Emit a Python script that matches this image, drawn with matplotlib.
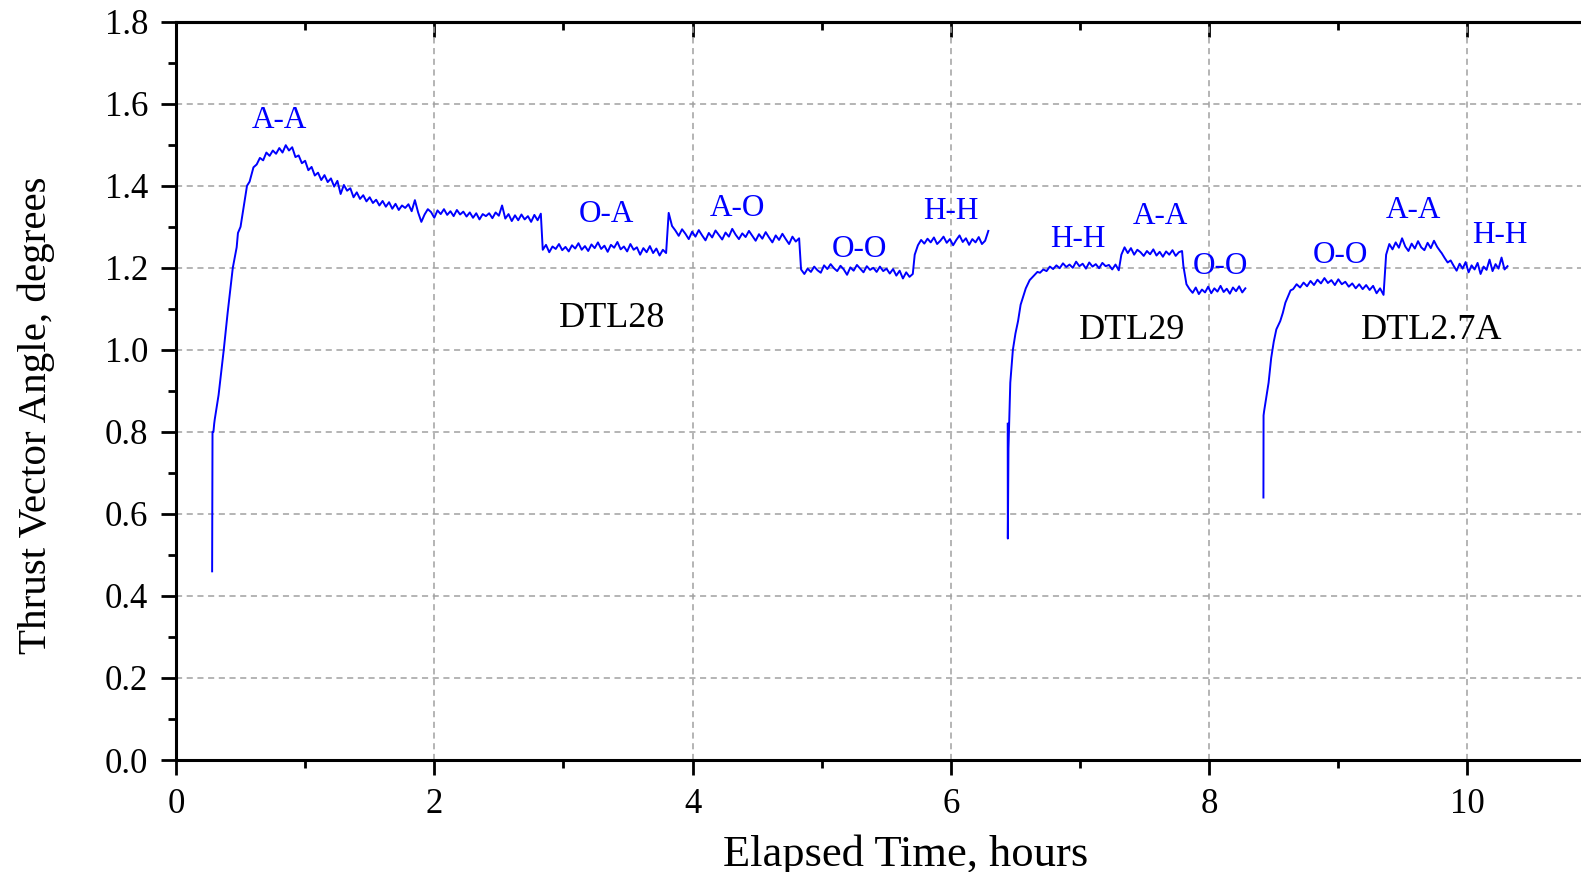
import numpy as np
import matplotlib
matplotlib.use("Agg")
import matplotlib.pyplot as plt
from matplotlib.ticker import MultipleLocator, FormatStrFormatter

plt.rcParams['font.family'] = ['Liberation Serif', 'DejaVu Serif']

# DTL28 run
dtl28_rise_t = [0.280, 0.283, 0.290, 0.296, 0.30, 0.33, 0.37, 0.40, 0.44, 0.47, 0.48,
                0.50, 0.53, 0.55, 0.57, 0.60]
dtl28_rise_y = [0.46, 0.80, 0.80, 0.82, 0.83, 0.89, 1.00, 1.09, 1.20, 1.25, 1.285,
                1.30, 1.36, 1.40, 1.41, 1.445]
dtl28_aa_span = (0.625, 2.825)
dtl28_aa = [1.452, 1.468, 1.462, 1.481, 1.473, 1.486, 1.478, 1.492, 1.481, 1.499,
            1.486, 1.494, 1.470, 1.474, 1.455, 1.461, 1.438, 1.446, 1.425, 1.432,
            1.414, 1.426, 1.409, 1.418, 1.398, 1.412, 1.380, 1.402, 1.388, 1.394,
            1.372, 1.384, 1.368, 1.377, 1.362, 1.372, 1.358, 1.366, 1.352, 1.363,
            1.349, 1.360, 1.344, 1.356, 1.341, 1.352, 1.346, 1.355, 1.338, 1.365,
            1.335, 1.312, 1.330, 1.343, 1.336, 1.322, 1.340, 1.331, 1.343, 1.329,
            1.338, 1.326, 1.341, 1.330, 1.337, 1.325, 1.335, 1.322, 1.333, 1.318,
            1.331, 1.326, 1.333, 1.321, 1.335, 1.327, 1.352, 1.320, 1.331, 1.314,
            1.328, 1.316, 1.330, 1.318, 1.326, 1.312, 1.329, 1.316, 1.332]
dtl28_oa_span = (2.840, 3.795)
dtl28_oa = [1.244, 1.256, 1.238, 1.252, 1.246, 1.258, 1.243, 1.251, 1.240, 1.255,
            1.247, 1.260, 1.244, 1.253, 1.241, 1.257, 1.248, 1.262, 1.246, 1.254,
            1.239, 1.256, 1.249, 1.263, 1.245, 1.252, 1.240, 1.258, 1.244, 1.250,
            1.232, 1.248, 1.238, 1.253, 1.236, 1.247, 1.230, 1.244, 1.236]
dtl28_ao_span = (3.815, 4.825)
dtl28_ao = [1.334, 1.302, 1.291, 1.278, 1.294, 1.283, 1.270, 1.288, 1.276, 1.292,
            1.279, 1.267, 1.285, 1.274, 1.291, 1.280, 1.269, 1.286, 1.276, 1.295,
            1.281, 1.270, 1.284, 1.275, 1.290, 1.278, 1.266, 1.282, 1.271, 1.287,
            1.274, 1.262, 1.279, 1.268, 1.283, 1.270, 1.258, 1.276, 1.264, 1.272]
dtl28_oo_span = (4.840, 5.705)
dtl28_oo = [1.196, 1.185, 1.198, 1.190, 1.203, 1.194, 1.188, 1.206, 1.197, 1.209,
            1.199, 1.192, 1.205, 1.196, 1.183, 1.201, 1.193, 1.207, 1.198, 1.189,
            1.204, 1.195, 1.200, 1.190, 1.203, 1.192, 1.198, 1.186, 1.197, 1.181,
            1.193, 1.174, 1.189, 1.178, 1.185]
dtl28_hh_span = (5.720, 6.290)
dtl28_hh = [1.232, 1.255, 1.268, 1.259, 1.271, 1.262, 1.274, 1.258, 1.266, 1.276,
            1.261, 1.270, 1.255, 1.268, 1.279, 1.263, 1.272, 1.256, 1.270, 1.262,
            1.275, 1.258, 1.266, 1.290]

# DTL29 run
dtl29_rise_t = [6.440, 6.441, 6.446, 6.46, 6.48, 6.50, 6.52, 6.54, 6.56, 6.58, 6.61,
                6.64, 6.67]
dtl29_rise_y = [0.82, 0.54, 0.76, 0.92, 1.00, 1.04, 1.07, 1.11, 1.13, 1.15, 1.17,
                1.18, 1.19]
dtl29_hh_span = (6.690, 7.300)
dtl29_hh = [1.188, 1.196, 1.192, 1.203, 1.197, 1.206, 1.199, 1.211, 1.202, 1.208,
            1.200, 1.215, 1.204, 1.210, 1.198, 1.213, 1.203, 1.209, 1.199, 1.212,
            1.204, 1.207, 1.196, 1.208, 1.194]
dtl29_aa_span = (7.320, 7.790)
dtl29_aa = [1.232, 1.250, 1.236, 1.248, 1.232, 1.244, 1.238, 1.229, 1.241, 1.233,
            1.245, 1.230, 1.239, 1.227, 1.240, 1.232, 1.243, 1.229, 1.238, 1.241]
dtl29_oo_span = (7.800, 8.280)
dtl29_oo = [1.205, 1.160, 1.148, 1.139, 1.152, 1.136, 1.147, 1.140, 1.154, 1.138,
            1.150, 1.142, 1.156, 1.141, 1.149, 1.137, 1.152, 1.143, 1.155, 1.140,
            1.150]

# DTL2.7A run
dtl27_rise_t = [8.420, 8.421, 8.425, 8.44, 8.46, 8.48, 8.50, 8.52, 8.55, 8.57, 8.59,
                8.61, 8.63]
dtl27_rise_y = [0.64, 0.84, 0.85, 0.88, 0.92, 0.98, 1.02, 1.05, 1.07, 1.09, 1.115,
                1.13, 1.145]
dtl27_oo_span = (8.650, 9.350)
dtl27_oo = [1.148, 1.160, 1.152, 1.164, 1.155, 1.168, 1.158, 1.171, 1.162, 1.175,
            1.163, 1.170, 1.158, 1.172, 1.160, 1.166, 1.154, 1.162, 1.150, 1.160,
            1.148, 1.158, 1.146, 1.156, 1.138, 1.150, 1.134]
dtl27_aa_span = (9.370, 9.790)
dtl27_aa = [1.232, 1.258, 1.245, 1.262, 1.249, 1.272, 1.252, 1.241, 1.259, 1.247,
            1.265, 1.250, 1.243, 1.261, 1.248, 1.266, 1.251, 1.240]
dtl27_hh_span = (9.800, 10.310)
dtl27_hh = [1.236, 1.224, 1.213, 1.218, 1.205, 1.193, 1.210, 1.198, 1.214, 1.189,
            1.206, 1.196, 1.212, 1.185, 1.203, 1.195, 1.220, 1.192, 1.209, 1.198,
            1.225, 1.196, 1.204]

# mode labels (blue) and run labels (black)
mode_labels = ["A-A", "O-A", "A-O", "O-O", "H-H", "H-H", "A-A", "O-O", "O-O", "A-A", "H-H"]
mode_x = [0.80, 3.33, 4.35, 5.29, 6.00, 6.98, 7.62, 8.09, 9.02, 9.58, 10.25]
mode_y = [1.558, 1.330, 1.345, 1.245, 1.337, 1.270, 1.324, 1.204, 1.229, 1.339, 1.280]
run_labels = ["DTL28", "DTL29", "DTL2.7A"]
run_x = [3.38, 7.40, 9.72]
run_y = [1.076, 1.046, 1.046]


def build_run(rise_t, rise_y, plateaus):
    t = list(rise_t)
    y = list(rise_y)
    for (t0, t1), vals in plateaus:
        t += list(np.linspace(t0, t1, len(vals)))
        y += list(vals)
    return t, y


runs = [
    build_run(dtl28_rise_t, dtl28_rise_y,
              [(dtl28_aa_span, dtl28_aa), (dtl28_oa_span, dtl28_oa), (dtl28_ao_span, dtl28_ao),
               (dtl28_oo_span, dtl28_oo), (dtl28_hh_span, dtl28_hh)]),
    build_run(dtl29_rise_t, dtl29_rise_y,
              [(dtl29_hh_span, dtl29_hh), (dtl29_aa_span, dtl29_aa), (dtl29_oo_span, dtl29_oo)]),
    build_run(dtl27_rise_t, dtl27_rise_y,
              [(dtl27_oo_span, dtl27_oo), (dtl27_aa_span, dtl27_aa), (dtl27_hh_span, dtl27_hh)]),
]

fig = plt.figure(figsize=(15.81, 8.72), dpi=100)
# axes run past the right edge of the figure, as in the cropped original
ax = fig.add_axes([0.1113, 0.1284, 0.9231, 0.8467])

for t, y in runs:
    ax.plot(t, y, color='#0000FF', lw=1.4)

for lab, x, y in zip(mode_labels, mode_x, mode_y):
    ax.text(x, y, lab, color='#0000FF', fontsize=22.5, ha='center', va='center')
for lab, x, y in zip(run_labels, run_x, run_y):
    ax.text(x, y, lab, color='black', fontsize=26, ha='center', va='center')

ax.set_xlim(0, 11.3)
ax.set_ylim(0, 1.8)
ax.xaxis.set_major_locator(MultipleLocator(2))
ax.xaxis.set_minor_locator(MultipleLocator(1))
ax.yaxis.set_major_locator(MultipleLocator(0.2))
ax.yaxis.set_minor_locator(MultipleLocator(0.1))
ax.yaxis.set_major_formatter(FormatStrFormatter('%.1f'))

ax.grid(True, which='major', color='#a0a0a0', linestyle=(0, (4, 3)), lw=1.1)
ax.tick_params(which='major', direction='out', length=11, width=2, labelsize=25, pad=9)
ax.tick_params(which='minor', direction='out', length=6, width=2)
ax.tick_params(axis='x', which='major', pad=9)
ax.spines['right'].set_visible(False)
for s in ['left', 'bottom', 'top']:
    ax.spines[s].set_linewidth(2.2)

# top axis: ticks pointing inward, no labels
top = ax.secondary_xaxis('top')
top.xaxis.set_major_locator(MultipleLocator(2))
top.xaxis.set_minor_locator(MultipleLocator(1))
top.tick_params(which='major', direction='in', length=11, width=2, labeltop=False)
top.tick_params(which='minor', direction='in', length=6, width=2)
top.spines['top'].set_linewidth(2.2)

ax.set_xlabel('Elapsed Time, hours', fontsize=32)
ax.set_ylabel('Thrust Vector Angle, degrees', fontsize=29.5)
ax.xaxis.set_label_coords(0.5, -0.101)
ax.yaxis.set_label_coords(-0.0826, 0.467)

fig.savefig('out.png', dpi=100)
